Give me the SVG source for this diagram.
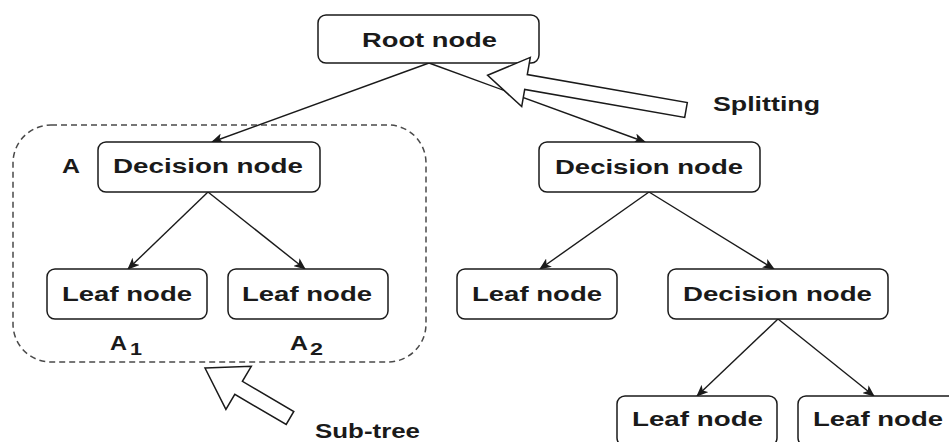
<svg xmlns="http://www.w3.org/2000/svg" width="949" height="442" viewBox="0 0 949 442">
  <style>
    .box { fill: #ffffff; stroke: #1a1a1a; stroke-width: 1.5; }
    .lbl { font-family: "Liberation Sans", Arial, sans-serif; font-weight: bold; font-size: 20px; fill: #1a1a1a; text-anchor: middle; }
    .note { font-family: "Liberation Sans", Arial, sans-serif; font-weight: bold; font-size: 20px; fill: #1a1a1a; }
    .sub { font-family: "Liberation Sans", Arial, sans-serif; font-weight: bold; font-size: 16px; fill: #1a1a1a; }
    .edge { fill: none; stroke: #1a1a1a; stroke-width: 1.4; }
    .hollow { fill: #ffffff; stroke: #1a1a1a; stroke-width: 1.5; stroke-linejoin: miter; }
  </style>
  <defs>
    <marker id="arrow" viewBox="0 0 12 10" refX="11" refY="5" markerWidth="12" markerHeight="10" markerUnits="userSpaceOnUse" orient="auto">
      <path d="M0,0 L12,5 L0,10 L3,5 z" fill="#1a1a1a"/>
    </marker>
  </defs>

  <!-- sub-tree boundary -->
  <rect id="subtree-frame" x="13" y="125" width="413" height="237" rx="38" ry="38" fill="none" stroke="#4a4a4a" stroke-width="1.5" stroke-dasharray="6 4"/>

  <!-- connectors -->
  <g id="connectors">
    <line class="edge" x1="429" y1="63" x2="212" y2="142" marker-end="url(#arrow)"/>
    <line class="edge" x1="429" y1="63" x2="645" y2="142" marker-end="url(#arrow)"/>
    <line class="edge" x1="208" y1="192" x2="128" y2="269" marker-end="url(#arrow)"/>
    <line class="edge" x1="208" y1="192" x2="305" y2="269" marker-end="url(#arrow)"/>
    <line class="edge" x1="649" y1="192" x2="540" y2="269" marker-end="url(#arrow)"/>
    <line class="edge" x1="649" y1="192" x2="774" y2="269" marker-end="url(#arrow)"/>
    <line class="edge" x1="778" y1="319" x2="697" y2="396" marker-end="url(#arrow)"/>
    <line class="edge" x1="778" y1="319" x2="874" y2="396" marker-end="url(#arrow)"/>
  </g>

  <!-- nodes -->
  <g id="root">
    <rect class="box" x="318" y="15" width="221" height="48" rx="8"/>
    <text class="lbl" x="429.5" y="47" textLength="135" lengthAdjust="spacingAndGlyphs">Root node</text>
  </g>
  <g id="decision-a">
    <rect class="box" x="98" y="142" width="222" height="50" rx="8"/>
    <text class="lbl" x="208" y="173" textLength="190" lengthAdjust="spacingAndGlyphs">Decision node</text>
  </g>
  <g id="decision-b">
    <rect class="box" x="539" y="142" width="221" height="50" rx="8"/>
    <text class="lbl" x="649" y="174" textLength="188" lengthAdjust="spacingAndGlyphs">Decision node</text>
  </g>
  <g id="leaf-a1">
    <rect class="box" x="47" y="269" width="160" height="50" rx="8"/>
    <text class="lbl" x="127" y="301" textLength="130" lengthAdjust="spacingAndGlyphs">Leaf node</text>
  </g>
  <g id="leaf-a2">
    <rect class="box" x="228" y="269" width="160" height="50" rx="8"/>
    <text class="lbl" x="307" y="301" textLength="130" lengthAdjust="spacingAndGlyphs">Leaf node</text>
  </g>
  <g id="leaf-b1">
    <rect class="box" x="457" y="269" width="160" height="50" rx="8"/>
    <text class="lbl" x="537" y="301" textLength="130" lengthAdjust="spacingAndGlyphs">Leaf node</text>
  </g>
  <g id="decision-c">
    <rect class="box" x="668" y="269" width="220" height="50" rx="8"/>
    <text class="lbl" x="777.5" y="301" textLength="189" lengthAdjust="spacingAndGlyphs">Decision node</text>
  </g>
  <g id="leaf-c1">
    <rect class="box" x="617" y="396" width="160" height="50" rx="8"/>
    <text class="lbl" x="697.5" y="426" textLength="131" lengthAdjust="spacingAndGlyphs">Leaf node</text>
  </g>
  <g id="leaf-c2">
    <rect class="box" x="798" y="396" width="160" height="50" rx="8"/>
    <text class="lbl" x="878" y="426" textLength="130" lengthAdjust="spacingAndGlyphs">Leaf node</text>
  </g>

  <!-- annotations -->
  <g id="labels">
    <text class="note" x="62" y="173" textLength="18" lengthAdjust="spacingAndGlyphs">A</text>
    <text class="note" x="110" y="350" textLength="17" lengthAdjust="spacingAndGlyphs">A</text>
    <text class="sub" x="130" y="355" textLength="12" lengthAdjust="spacingAndGlyphs">1</text>
    <text class="note" x="290" y="350" textLength="18" lengthAdjust="spacingAndGlyphs">A</text>
    <text class="sub" x="310" y="355" textLength="13" lengthAdjust="spacingAndGlyphs">2</text>
  </g>

  <g id="splitting">
    <polygon class="hollow" points="487.6,75.3 530.3,57.4 527.3,74.6 687.3,102.6 684.7,117.4 524.7,89.4 521.7,106.6"/>
    <text class="note" x="713" y="111" textLength="107" lengthAdjust="spacingAndGlyphs">Splitting</text>
  </g>

  <g id="subtree">
    <polygon class="hollow" points="205,368 251.3,366.3 242.4,381.3 293.8,411.5 286.2,424.5 234.8,394.3 225.9,409.4"/>
    <text class="note" x="315" y="438" textLength="105" lengthAdjust="spacingAndGlyphs">Sub-tree</text>
  </g>
</svg>
